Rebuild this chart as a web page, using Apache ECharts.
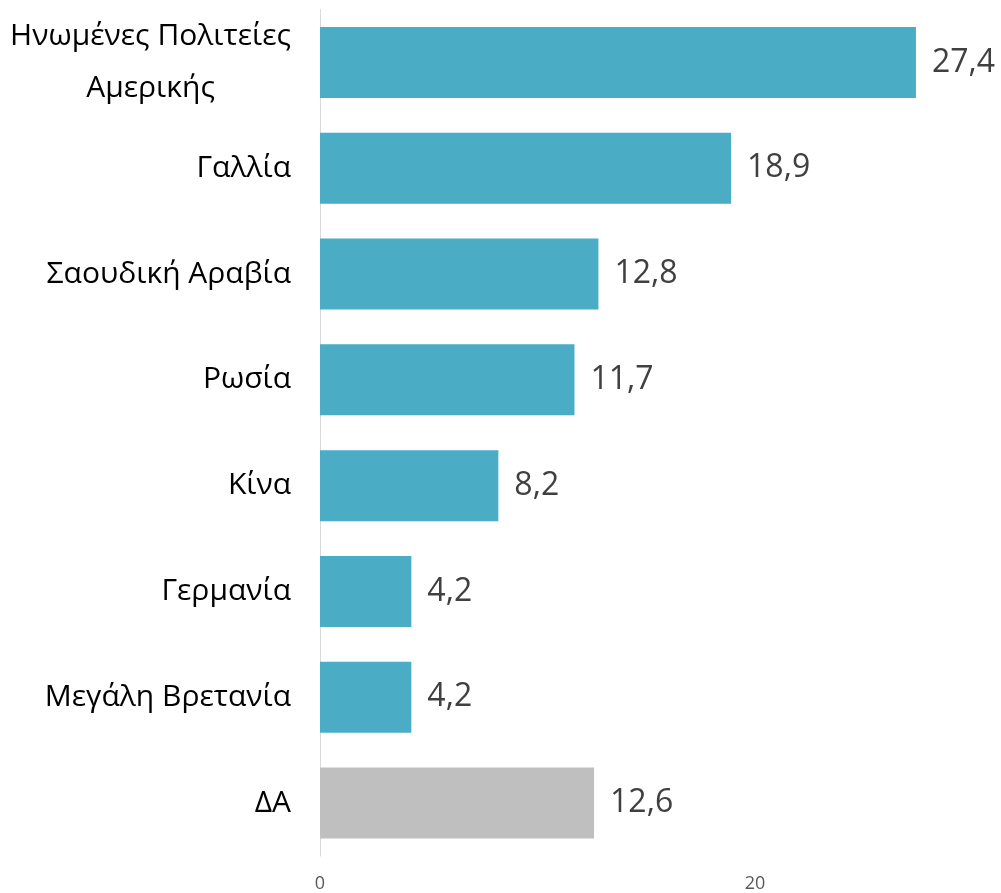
<!DOCTYPE html>
<html>
<head>
<meta charset="utf-8">
<script src="https://cdn.jsdelivr.net/npm/echarts@6/dist/echarts.min.js"></script>
<style>
html,body{margin:0;padding:0;background:#fff;}
#chart{width:1001px;height:893px;}
</style>
</head>
<body>
<div id="chart"></div>
<script>
const categories = ["Ηνωμένες Πολιτείες\nΑμερικής", "Γαλλία", "Σαουδική Αραβία", "Ρωσία", "Κίνα", "Γερμανία", "Μεγάλη Βρετανία", "ΔΑ"];
const values = [27.4, 18.9, 12.8, 11.7, 8.2, 4.2, 4.2, 12.6];
const highlight = [false, false, false, false, false, false, false, true];
const xTicks = [0, 20];

const chart = echarts.init(document.getElementById('chart'));
const FONT = '"Open Sans", "Noto Sans", sans-serif';
chart.setOption({
  animation: false,
  grid: { left: 320, right: 28.5, top: 9.5, bottom: 35.5, containLabel: false },
  xAxis: {
    type: 'value', min: 0, max: 30, interval: 20,
    splitLine: { show: false },
    axisLine: { show: false },
    axisTick: { show: false },
    axisLabel: {
      color: '#595959', fontSize: 18, fontFamily: FONT, margin: 19,
      formatter: v => xTicks.includes(v) ? String(v) : ''
    }
  },
  yAxis: {
    type: 'category', inverse: true, data: categories,
    axisLine: { show: true, lineStyle: { color: '#d9d9d9', width: 1 } },
    axisTick: { show: false },
    axisLabel: {
      color: '#000', fontSize: 30, fontFamily: FONT, margin: 29,
      formatter: v => v.split('\n').map(s => '{c|' + s + '}').join('\n'),
      rich: { c: { align: 'center', fontSize: 30, fontFamily: FONT, color: '#000', lineHeight: 52 } }
    }
  },
  series: [{
    type: 'bar',
    data: values.map((v, i) => ({ value: v, itemStyle: { color: highlight[i] ? '#bfbfbf' : '#4bacc6' } })),
    barWidth: 71,
    label: {
      show: true, position: 'right', distance: 16,
      color: '#404040', fontSize: 32, fontFamily: FONT,
      formatter: p => String(p.value).replace('.', ',')
    }
  }]
});
</script>
</body>
</html>
